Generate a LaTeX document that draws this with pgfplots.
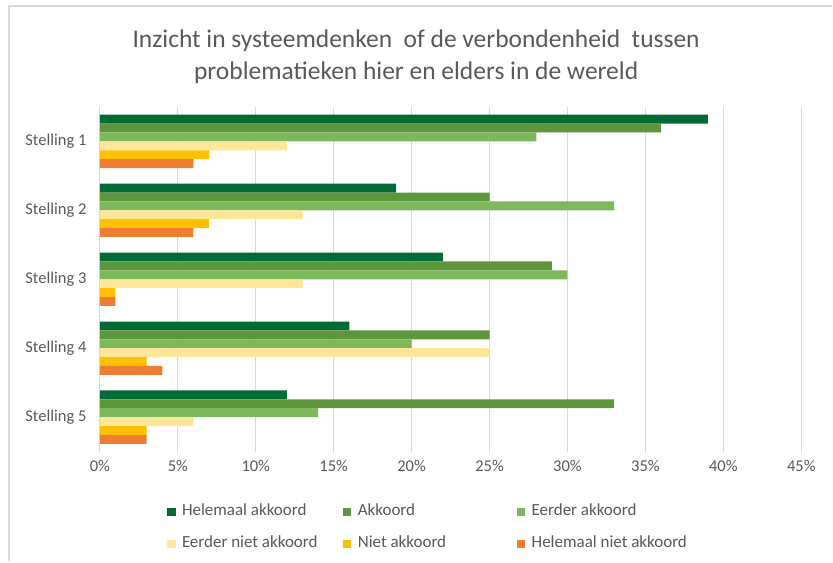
\documentclass[border=0pt]{standalone}
\usepackage{pgfplots}
\pgfplotsset{compat=1.18}
\usepackage{fontspec}
\setmainfont{Carlito}
\definecolor{txtgray}{HTML}{595959}
\definecolor{gridgray}{HTML}{D9D9D9}
\definecolor{frame}{HTML}{D9D9D9}
\definecolor{cA}{HTML}{006B35}
\definecolor{cB}{HTML}{5E963E}
\definecolor{cC}{HTML}{7DB85A}
\definecolor{cD}{HTML}{FFE699}
\definecolor{cE}{HTML}{FFC000}
\definecolor{cF}{HTML}{ED7D31}
\begin{document}
\begin{tikzpicture}[x=1pt,y=1pt]
\path (0,0) rectangle (833,562);
\draw[frame, line width=1.5pt] (9,0) -- (9,556) -- (833,556);
\node[align=center, text=txtgray, font=\fontsize{25.5}{32}\selectfont] at (416.5,505) {Inzicht in systeemdenken\ \ of de verbondenheid\ \ tussen\\problematieken hier en elders in de wereld};
\begin{axis}[
  at={(100pt,110pt)}, anchor=south west,
  scale only axis, width=702pt, height=345pt,
  xmin=0, xmax=45, ymin=0.5, ymax=5.5,
  y dir=reverse,
  xtick={0,5,...,45},
  ytick={1,2,3,4,5},
  yticklabels={Stelling 1,Stelling 2,Stelling 3,Stelling 4,Stelling 5},
  xticklabel={\pgfmathprintnumber{\tick}\%},
  /pgf/number format/assume math mode=true,
  xmajorgrids,
  major grid style={draw=gridgray, line width=1pt},
  axis line style={draw=none},
  major tick length=0pt,
  tick label style={font=\fontsize{16.5}{19}\selectfont, text=txtgray},
  xticklabel style={yshift=-5pt},
  yticklabel style={xshift=-10pt},
  xbar, bar width=0.129,
  legend columns=3,
  legend cell align=left,
  legend style={at={(0.0954,-0.156)}, anchor=north west, draw=none, inner sep=0pt,
    font=\fontsize{17}{19}\selectfont, text=txtgray,
    nodes={inner sep=0pt, text height=10pt, text depth=3pt},
    row sep=19pt,
    /tikz/every odd column/.append style={column sep=6.5pt}},
  legend image code/.code={\fill[#1] (0pt,-4.25pt) rectangle (8.5pt,4.25pt);},
]
\addplot[fill=cA, draw=none, bar shift=-0.3225] coordinates {(39,1) (19,2) (22,3) (16,4) (12,5)};
\addplot[fill=cB, draw=none, bar shift=-0.1935] coordinates {(36,1) (25,2) (29,3) (25,4) (33,5)};
\addplot[fill=cC, draw=none, bar shift=-0.0645] coordinates {(28,1) (33,2) (30,3) (20,4) (14,5)};
\addplot[fill=cD, draw=none, bar shift=0.0645] coordinates {(12,1) (13,2) (13,3) (25,4) (6,5)};
\addplot[fill=cE, draw=none, bar shift=0.1935] coordinates {(7,1) (7,2) (1,3) (3,4) (3,5)};
\addplot[fill=cF, draw=none, bar shift=0.3225] coordinates {(6,1) (6,2) (1,3) (4,4) (3,5)};
\legend{\makebox[161pt][l]{Helemaal akkoord},\makebox[159pt][l]{Akkoord},Eerder akkoord,\makebox[161pt][l]{Eerder niet akkoord},\makebox[159pt][l]{Niet akkoord},Helemaal niet akkoord}
\end{axis}
\end{tikzpicture}
\end{document}
